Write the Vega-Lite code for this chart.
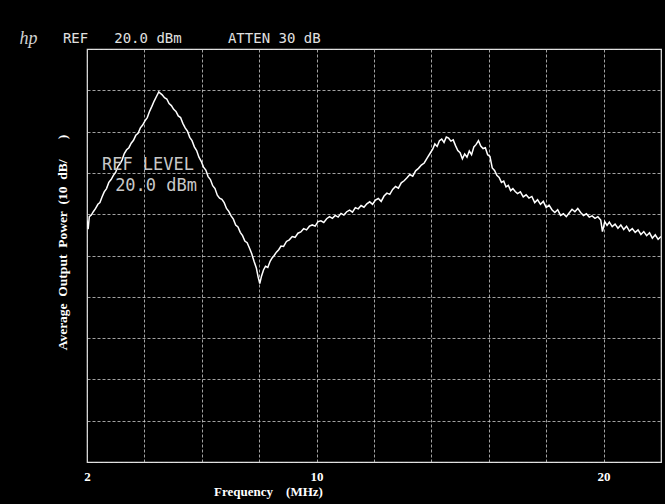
{
  "$schema": "https://vega.github.io/schema/vega-lite/v6.json",
  "autosize": "none",
  "width": 574,
  "height": 413,
  "padding": {"left": 87, "top": 49, "right": 4, "bottom": 42},
  "background": "black",
  "config": {
    "view": {"stroke": "#e6e6e6", "strokeWidth": 1.2},
    "axis": {
      "grid": true,
      "gridColor": "#d8d8d8",
      "gridDash": [3, 2],
      "gridOpacity": 0.75,
      "gridWidth": 1,
      "ticks": false,
      "domain": false
    }
  },
  "datasets": {
    "trace": [
      {"f": 2.00, "db": -21.5}, {"f": 2.04, "db": -23.6}, {"f": 2.08, "db": -20.6}, {"f": 2.15, "db": -20.2},
      {"f": 2.22, "db": -19.4}, {"f": 2.30, "db": -18.6}, {"f": 2.38, "db": -17.6}, {"f": 2.45, "db": -17.2},
      {"f": 2.52, "db": -15.9}, {"f": 2.60, "db": -14.6}, {"f": 2.68, "db": -13.8}, {"f": 2.76, "db": -12.3},
      {"f": 2.84, "db": -11.6}, {"f": 2.92, "db": -10.6}, {"f": 3.00, "db": -9.8}, {"f": 3.08, "db": -8.4},
      {"f": 3.15, "db": -7.8}, {"f": 3.22, "db": -6.9}, {"f": 3.30, "db": -5.3}, {"f": 3.38, "db": -4.4},
      {"f": 3.46, "db": -3.9}, {"f": 3.54, "db": -2.8}, {"f": 3.62, "db": -2.1}, {"f": 3.70, "db": -0.9},
      {"f": 3.78, "db": -0.4}, {"f": 3.86, "db": 0.9}, {"f": 3.94, "db": 1.6}, {"f": 4.02, "db": 2.6},
      {"f": 4.10, "db": 3.4}, {"f": 4.18, "db": 4.9}, {"f": 4.26, "db": 6.1}, {"f": 4.34, "db": 7.4},
      {"f": 4.42, "db": 8.5}, {"f": 4.50, "db": 9.6}, {"f": 4.55, "db": 9.3}, {"f": 4.62, "db": 8.9},
      {"f": 4.70, "db": 8.2}, {"f": 4.78, "db": 7.9}, {"f": 4.86, "db": 6.8}, {"f": 4.94, "db": 6.3},
      {"f": 5.02, "db": 5.4}, {"f": 5.10, "db": 4.9}, {"f": 5.18, "db": 3.8}, {"f": 5.26, "db": 3.4},
      {"f": 5.34, "db": 2.0}, {"f": 5.42, "db": 0.9}, {"f": 5.50, "db": 0.1}, {"f": 5.58, "db": -1.4},
      {"f": 5.66, "db": -2.2}, {"f": 5.74, "db": -3.7}, {"f": 5.82, "db": -4.6}, {"f": 5.90, "db": -6.2},
      {"f": 5.98, "db": -7.2}, {"f": 6.06, "db": -8.6}, {"f": 6.14, "db": -9.3}, {"f": 6.22, "db": -10.9},
      {"f": 6.30, "db": -11.6}, {"f": 6.38, "db": -13.1}, {"f": 6.46, "db": -13.8}, {"f": 6.54, "db": -15.4},
      {"f": 6.62, "db": -16.1}, {"f": 6.70, "db": -16.4}, {"f": 6.78, "db": -17.2}, {"f": 6.86, "db": -18.6},
      {"f": 6.94, "db": -19.3}, {"f": 7.02, "db": -20.4}, {"f": 7.10, "db": -21.2}, {"f": 7.18, "db": -22.6},
      {"f": 7.26, "db": -23.1}, {"f": 7.34, "db": -24.4}, {"f": 7.42, "db": -25.2}, {"f": 7.50, "db": -26.5},
      {"f": 7.58, "db": -26.9}, {"f": 7.66, "db": -28.2}, {"f": 7.74, "db": -29.6}, {"f": 7.82, "db": -31.4},
      {"f": 7.90, "db": -33.0}, {"f": 7.96, "db": -35.1}, {"f": 8.02, "db": -36.8}, {"f": 8.08, "db": -35.0},
      {"f": 8.15, "db": -33.5}, {"f": 8.22, "db": -32.6}, {"f": 8.30, "db": -32.9}, {"f": 8.38, "db": -31.4},
      {"f": 8.45, "db": -30.6}, {"f": 8.52, "db": -30.0}, {"f": 8.60, "db": -29.2}, {"f": 8.68, "db": -28.6},
      {"f": 8.76, "db": -27.7}, {"f": 8.85, "db": -27.8}, {"f": 8.95, "db": -26.6}, {"f": 9.05, "db": -26.2},
      {"f": 9.15, "db": -25.4}, {"f": 9.25, "db": -25.6}, {"f": 9.35, "db": -24.6}, {"f": 9.45, "db": -24.3},
      {"f": 9.55, "db": -23.5}, {"f": 9.65, "db": -23.8}, {"f": 9.75, "db": -22.9}, {"f": 9.85, "db": -22.6},
      {"f": 9.95, "db": -22.9}, {"f": 10.05, "db": -21.8}, {"f": 10.15, "db": -21.6}, {"f": 10.25, "db": -22.0},
      {"f": 10.35, "db": -21.1}, {"f": 10.45, "db": -20.6}, {"f": 10.55, "db": -21.0}, {"f": 10.65, "db": -20.3},
      {"f": 10.75, "db": -20.7}, {"f": 10.85, "db": -19.8}, {"f": 10.95, "db": -20.2}, {"f": 11.05, "db": -19.4},
      {"f": 11.15, "db": -19.0}, {"f": 11.25, "db": -19.5}, {"f": 11.35, "db": -18.4}, {"f": 11.45, "db": -18.7},
      {"f": 11.55, "db": -17.9}, {"f": 11.65, "db": -18.3}, {"f": 11.75, "db": -17.5}, {"f": 11.85, "db": -17.0},
      {"f": 11.95, "db": -17.6}, {"f": 12.05, "db": -16.6}, {"f": 12.15, "db": -16.2}, {"f": 12.25, "db": -16.9},
      {"f": 12.35, "db": -15.6}, {"f": 12.45, "db": -14.9}, {"f": 12.55, "db": -15.2}, {"f": 12.65, "db": -14.0},
      {"f": 12.75, "db": -13.3}, {"f": 12.85, "db": -13.7}, {"f": 12.95, "db": -12.4}, {"f": 13.05, "db": -11.9},
      {"f": 13.15, "db": -11.2}, {"f": 13.25, "db": -10.4}, {"f": 13.35, "db": -10.8}, {"f": 13.45, "db": -9.5},
      {"f": 13.55, "db": -8.9}, {"f": 13.65, "db": -8.1}, {"f": 13.75, "db": -7.6}, {"f": 13.85, "db": -6.4},
      {"f": 13.95, "db": -5.3}, {"f": 14.05, "db": -4.2}, {"f": 14.12, "db": -3.0}, {"f": 14.20, "db": -3.6},
      {"f": 14.28, "db": -2.2}, {"f": 14.36, "db": -1.8}, {"f": 14.44, "db": -2.6}, {"f": 14.52, "db": -1.3},
      {"f": 14.60, "db": -1.6}, {"f": 14.68, "db": -2.3}, {"f": 14.76, "db": -2.0}, {"f": 14.84, "db": -3.4},
      {"f": 14.92, "db": -4.6}, {"f": 15.00, "db": -5.1}, {"f": 15.08, "db": -6.6}, {"f": 15.16, "db": -5.4},
      {"f": 15.24, "db": -6.2}, {"f": 15.32, "db": -4.7}, {"f": 15.40, "db": -5.6}, {"f": 15.48, "db": -3.7},
      {"f": 15.56, "db": -3.1}, {"f": 15.64, "db": -2.2}, {"f": 15.72, "db": -3.5}, {"f": 15.80, "db": -4.1},
      {"f": 15.88, "db": -3.9}, {"f": 15.96, "db": -5.6}, {"f": 16.04, "db": -6.0}, {"f": 16.12, "db": -8.8},
      {"f": 16.20, "db": -9.4}, {"f": 16.28, "db": -10.6}, {"f": 16.36, "db": -11.1}, {"f": 16.44, "db": -12.3},
      {"f": 16.52, "db": -12.0}, {"f": 16.60, "db": -13.4}, {"f": 16.68, "db": -13.0}, {"f": 16.76, "db": -14.3},
      {"f": 16.84, "db": -13.8}, {"f": 16.92, "db": -14.5}, {"f": 17.00, "db": -15.0}, {"f": 17.10, "db": -14.6},
      {"f": 17.20, "db": -15.8}, {"f": 17.30, "db": -15.3}, {"f": 17.40, "db": -16.1}, {"f": 17.50, "db": -15.7},
      {"f": 17.60, "db": -17.2}, {"f": 17.70, "db": -16.5}, {"f": 17.80, "db": -17.6}, {"f": 17.90, "db": -16.9},
      {"f": 18.00, "db": -18.4}, {"f": 18.10, "db": -17.8}, {"f": 18.20, "db": -18.9}, {"f": 18.30, "db": -19.6},
      {"f": 18.40, "db": -18.9}, {"f": 18.50, "db": -20.3}, {"f": 18.60, "db": -19.9}, {"f": 18.70, "db": -20.6},
      {"f": 18.80, "db": -19.7}, {"f": 18.90, "db": -18.8}, {"f": 19.00, "db": -19.4}, {"f": 19.10, "db": -18.6},
      {"f": 19.20, "db": -19.6}, {"f": 19.30, "db": -20.3}, {"f": 19.40, "db": -19.9}, {"f": 19.50, "db": -20.7},
      {"f": 19.60, "db": -20.4}, {"f": 19.70, "db": -21.0}, {"f": 19.80, "db": -20.6}, {"f": 19.90, "db": -21.4},
      {"f": 19.96, "db": -24.2}, {"f": 20.04, "db": -21.8}, {"f": 20.12, "db": -22.7}, {"f": 20.20, "db": -21.9},
      {"f": 20.30, "db": -23.0}, {"f": 20.40, "db": -22.4}, {"f": 20.50, "db": -23.4}, {"f": 20.60, "db": -22.6},
      {"f": 20.70, "db": -23.7}, {"f": 20.80, "db": -22.9}, {"f": 20.90, "db": -24.1}, {"f": 21.00, "db": -23.5},
      {"f": 21.10, "db": -24.4}, {"f": 21.20, "db": -23.8}, {"f": 21.30, "db": -24.9}, {"f": 21.40, "db": -24.2},
      {"f": 21.50, "db": -25.2}, {"f": 21.60, "db": -24.5}, {"f": 21.70, "db": -25.8}, {"f": 21.80, "db": -25.0},
      {"f": 21.90, "db": -26.1}, {"f": 22.00, "db": -25.4}
    ]
  },
  "layer": [
    {
      "data": {"name": "trace"},
      "mark": {"type": "line", "color": "white", "strokeWidth": 1.5, "clip": true},
      "encoding": {
        "x": {
          "field": "f", "type": "quantitative",
          "scale": {"domain": [2, 22], "nice": false, "zero": false},
          "axis": {
            "values": [2, 4, 6, 8, 10, 12, 14, 16, 18, 20, 22],
            "labelExpr": "datum.value == 2 || datum.value == 10 || datum.value == 20 ? datum.label : ''",
            "labelFont": "Liberation Serif",
            "labelFontWeight": "bold",
            "labelFontSize": 13,
            "labelColor": "white",
            "labelPadding": 8,
            "labelDx": -5,
            "labelFlush": false,
            "title": "Frequency\u00a0\u00a0\u00a0 (MHz)",
            "titleFont": "Liberation Serif",
            "titleFontWeight": "bold",
            "titleFontSize": 13,
            "titleColor": "white",
            "titleX": 181,
            "titleY": 33,
            "titleAlign": "center",
            "titleBaseline": "alphabetic"
          }
        },
        "y": {
          "field": "db", "type": "quantitative",
          "scale": {"domain": [-80, 20], "nice": false, "zero": false},
          "axis": {
            "values": [-80, -70, -60, -50, -40, -30, -20, -10, 0, 10, 20],
            "labels": false,
            "title": "Average\u00a0 Output\u00a0 Power\u00a0 (10\u00a0 dB/\u00a0\u00a0\u00a0\u00a0\u00a0 )",
            "titleFont": "Liberation Serif",
            "titleFontWeight": "bold",
            "titleFontSize": 13.5,
            "titleColor": "white",
            "titleX": -25,
            "titleY": 193,
            "titleAlign": "center",
            "titleBaseline": "middle",
            "titleAngle": -90
          }
        }
      }
    },
    {
      "data": {"values": [
        {"f": 1.16, "db": 21.45, "t": "REF"},
        {"f": 2.95, "db": 21.45, "t": "20.0 dBm"},
        {"f": 6.91, "db": 21.45, "t": "ATTEN 30 dB"}
      ]},
      "mark": {"type": "text", "font": "DejaVu Sans Mono", "fontSize": 14, "color": "#e0e0e0", "align": "left", "baseline": "alphabetic"},
      "encoding": {
        "x": {"field": "f", "type": "quantitative"},
        "y": {"field": "db", "type": "quantitative"},
        "text": {"field": "t"}
      }
    },
    {
      "data": {"values": [
        {"f": -0.35, "db": 21.3, "t": "hp"}
      ]},
      "mark": {"type": "text", "font": "Liberation Serif", "fontStyle": "italic", "fontSize": 18, "color": "#d0d0d0", "align": "left", "baseline": "alphabetic"},
      "encoding": {
        "x": {"field": "f", "type": "quantitative"},
        "y": {"field": "db", "type": "quantitative"},
        "text": {"field": "t"}
      }
    },
    {
      "data": {"values": [
        {"f": 2.52, "db": -9.3, "t": "REF LEVEL"},
        {"f": 2.98, "db": -14.3, "t": "20.0 dBm"}
      ]},
      "mark": {"type": "text", "font": "DejaVu Sans Mono", "fontSize": 17, "fontWeight": "normal", "color": "#c8c8c8", "align": "left", "baseline": "alphabetic"},
      "encoding": {
        "x": {"field": "f", "type": "quantitative"},
        "y": {"field": "db", "type": "quantitative"},
        "text": {"field": "t"}
      }
    }
  ]
}
